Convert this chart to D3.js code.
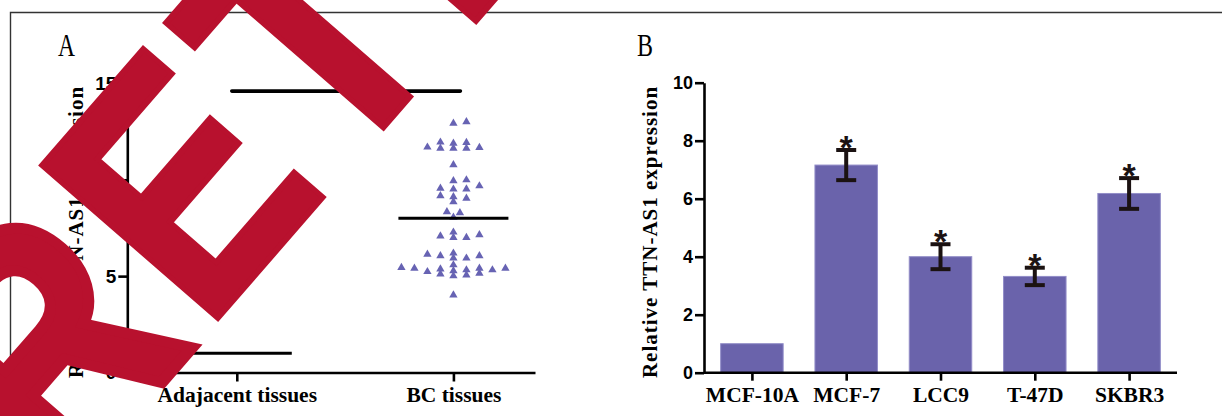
<!DOCTYPE html>
<html>
<head>
<meta charset="utf-8">
<script src="https://cdn.jsdelivr.net/npm/d3@7"></script>
<style>
  body { margin: 0; background: #fff; }
  svg { display: block; }
</style>
</head>
<body>
<svg width="1222" height="416"></svg>
<script>
var WIDTH = 1222
var HEIGHT = 416

// panel A: scatter of TTN-AS1 in tissues
var groupsA = ["Adajacent tissues", "BC tissues"];
var meansA = [1.0, 8.0];
var sigLineValue = 14.6;
var ticksA = [0, 5, 10, 15];
var bcValues = [
    13.01, 12.93,
    11.93, 11.67, 11.63, 11.63, 11.95, 11.63, 11.69, 11.89,
    10.77,
    9.95, 9.99,
    9.52, 9.56, 9.68, 9.51,
    9.17, 9.04, 9.12,
    8.86,
    8.34, 8.29,
    8.05,
    7.14, 7.00, 7.00, 7.08, 7.28,
    6.13, 6.05, 5.93, 5.93, 6.05, 6.19,
    5.58, 5.28, 5.41, 5.15, 5.41, 5.06, 5.32, 5.01, 5.37, 5.11, 5.41, 5.23, 5.44, 5.32,
    4.02
];

// panel B: cell lines
var cellLines = ["MCF-10A", "MCF-7", "LCC9", "T-47D", "SKBR3"];
var expr = [1.0, 7.16, 4.0, 3.32, 6.18];
var exprErr = [0, 0.52, 0.43, 0.30, 0.53];
var starred = [false, true, true, true, true];
var ticksB = [0, 2, 4, 6, 8, 10];

var watermark = ["R", "ETRACTED"];

var svg = d3.select("svg");
var purple = "#6a63ab";
var red = "#b8112e";
var sans = "'Liberation Sans', Arial, sans-serif";
var serif = "'Liberation Serif', 'Times New Roman', serif";

// outer frame
svg.append("path")
    .attr("d", "M10.5," + HEIGHT + "V12.5H" + WIDTH)
    .attr("fill", "none")
    .attr("stroke", "#333")
    .attr("stroke-width", 1.4);

function styleAxis(g, size) {
    g.select(".domain").attr("stroke", "#000").attr("stroke-width", 2.6);
    g.selectAll(".tick line").attr("stroke", "#000").attr("stroke-width", 2.6);
    g.selectAll(".tick text")
        .attr("fill", "#000")
        .style("font-family", sans)
        .style("font-weight", "bold")
        .style("font-size", size + "px");
}

// ---------- panel A ----------
var yA = d3.scaleLinear().domain([0, 15]).range([372.5, 83.4]);
var xA = d3.scalePoint().domain(groupsA).range([127.3, 535]).padding(0.441).align(0.573);

var gA = svg.append("g");

gA.append("g")
    .attr("transform", "translate(127.3,0)")
    .call(d3.axisLeft(yA).tickValues(ticksA).tickSize(9).tickPadding(2).tickSizeOuter(0))
    .call(styleAxis, 19);

var axA = gA.append("g")
    .attr("transform", "translate(0,372.5)")
    .call(d3.axisBottom(xA).tickSize(9).tickSizeOuter(0))
    .call(styleAxis, 21);
axA.selectAll(".tick text")
    .attr("y", 29).attr("dy", 0)
    .style("font-family", serif)
    .style("font-size", "21.5px");

gA.append("text")
    .attr("transform", "translate(82.5,232) rotate(-90)")
    .attr("text-anchor", "middle")
    .style("font-family", serif)
    .style("font-weight", "bold")
    .style("font-size", "21px")
    .style("letter-spacing", "1px")
    .text("Relative TTN-AS1 expression");

gA.append("text")
    .attr("x", 58).attr("y", 56)
    .attr("textLength", 17).attr("lengthAdjust", "spacingAndGlyphs")
    .style("font-family", serif)
    .style("font-size", "31px")
    .text("A");

// simple beeswarm so the triangles spread like the original dot plot
var slot = 6.5;
var placed = [];
var order = d3.range(bcValues.length).sort(function (a, b) { return bcValues[a] - bcValues[b]; });
var swarm = [];
order.forEach(function (i) {
    var py = yA(bcValues[i]);
    for (var k = 0; k < 40; k++) {
        var off = (k % 2 === 1 ? 1 : -1) * Math.ceil(k / 2) * slot;
        var hit = placed.some(function (p) {
            var dx = (p[0] - off) / 11, dy = (p[1] - py) / 5;
            return dx * dx + dy * dy < 1;
        });
        if (!hit) {
            placed.push([off, py]);
            swarm.push({ v: bcValues[i], off: off });
            break;
        }
    }
});

gA.selectAll(".tri")
    .data(swarm)
    .enter().append("path")
    .attr("class", "tri")
    .attr("d", d3.symbol().type(d3.symbolTriangle).size(30))
    .attr("transform", function (d) { return "translate(" + (xA("BC tissues") + d.off) + "," + yA(d.v) + ")"; })
    .attr("fill", "#6763b3");

gA.selectAll(".mean")
    .data(groupsA)
    .enter().append("line")
    .attr("x1", function (d) { return xA(d) - 55; })
    .attr("x2", function (d) { return xA(d) + 55; })
    .attr("y1", function (d, i) { return yA(meansA[i]); })
    .attr("y2", function (d, i) { return yA(meansA[i]); })
    .attr("stroke", "#000")
    .attr("stroke-width", 3);

gA.append("line")
    .attr("x1", xA(groupsA[0]) - 5)
    .attr("x2", xA(groupsA[1]) + 7)
    .attr("y1", yA(sigLineValue))
    .attr("y2", yA(sigLineValue))
    .attr("stroke", "#000")
    .attr("stroke-width", 3.6)
    .attr("stroke-linecap", "round");

// ---------- panel B ----------
var yB = d3.scaleLinear().domain([0, 10]).range([372.7, 82.7]);
var xB = d3.scalePoint().domain(cellLines).range([704, 1177]).padding(0.508);
var barW = 62.5;

var gB = svg.append("g");

gB.selectAll(".bar")
    .data(cellLines)
    .enter().append("rect")
    .attr("class", "bar")
    .attr("x", function (d) { return xB(d) - barW / 2; })
    .attr("width", barW)
    .attr("y", function (d, i) { return yB(expr[i]); })
    .attr("height", function (d, i) { return yB(0) - yB(expr[i]); })
    .attr("fill", purple)
    .attr("stroke", "#928dc8")
    .attr("stroke-width", 1);

var errs = cellLines.filter(function (d, i) { return exprErr[i] > 0; });
var eb = gB.selectAll(".err")
    .data(errs)
    .enter().append("g")
    .attr("class", "err")
    .attr("stroke", "#1b1212")
    .attr("stroke-width", 4);
eb.append("line")
    .attr("x1", function (d) { return xB(d); })
    .attr("x2", function (d) { return xB(d); })
    .attr("y1", function (d) { var i = cellLines.indexOf(d); return yB(expr[i] + exprErr[i]); })
    .attr("y2", function (d) { var i = cellLines.indexOf(d); return yB(expr[i] - exprErr[i]); });
[1, -1].forEach(function (s) {
    eb.append("line")
        .attr("x1", function (d) { return xB(d) - 10; })
        .attr("x2", function (d) { return xB(d) + 10; })
        .attr("y1", function (d) { var i = cellLines.indexOf(d); return yB(expr[i] + s * exprErr[i]); })
        .attr("y2", function (d) { var i = cellLines.indexOf(d); return yB(expr[i] + s * exprErr[i]); });
});

gB.selectAll(".star")
    .data(cellLines.filter(function (d, i) { return starred[i]; }))
    .enter().append("text")
    .attr("class", "star")
    .attr("x", function (d) { return xB(d); })
    .attr("y", function (d) { var i = cellLines.indexOf(d); return yB(expr[i] + exprErr[i]) + 9; })
    .attr("text-anchor", "middle")
    .style("font-family", sans)
    .style("font-weight", "bold")
    .style("font-size", "34px")
    .attr("fill", "#1b1212")
    .text("*");

gB.append("g")
    .attr("transform", "translate(704,0)")
    .call(d3.axisLeft(yB).tickValues(ticksB).tickSize(9).tickPadding(2).tickSizeOuter(0))
    .call(styleAxis, 18);

var axB = gB.append("g")
    .attr("transform", "translate(0,372.7)")
    .call(d3.axisBottom(xB).tickSize(8).tickSizeOuter(0))
    .call(styleAxis, 21);
axB.select(".domain").attr("d", "M704,0H1177");
axB.selectAll(".tick text")
    .attr("y", 29).attr("dy", 0)
    .style("font-family", serif)
    .style("font-size", "21.5px");

gB.append("text")
    .attr("transform", "translate(657,232) rotate(-90)")
    .attr("text-anchor", "middle")
    .style("font-family", serif)
    .style("font-weight", "bold")
    .style("font-size", "21px")
    .style("letter-spacing", "1px")
    .text("Relative TTN-AS1 expression");

gB.append("text")
    .attr("x", 637).attr("y", 56)
    .attr("textLength", 16).attr("lengthAdjust", "spacingAndGlyphs")
    .style("font-family", serif)
    .style("font-size", "31px")
    .text("B");

// ---------- retraction stamp ----------
var stamp = svg.append("text")
    .attr("transform", "translate(60.3,499) rotate(-49) scale(0.846,1)")
    .style("font-family", sans)
    .style("font-weight", "bold")
    .style("font-size", "338px")
    .style("letter-spacing", "16.6px")
    .attr("fill", red)
    .attr("stroke", red)
    .attr("stroke-width", 6)
    .attr("stroke-linejoin", "miter");
stamp.append("tspan").attr("stroke-width", 12).text(watermark[0]);
stamp.append("tspan").text(watermark[1]);
</script>
</body>
</html>
